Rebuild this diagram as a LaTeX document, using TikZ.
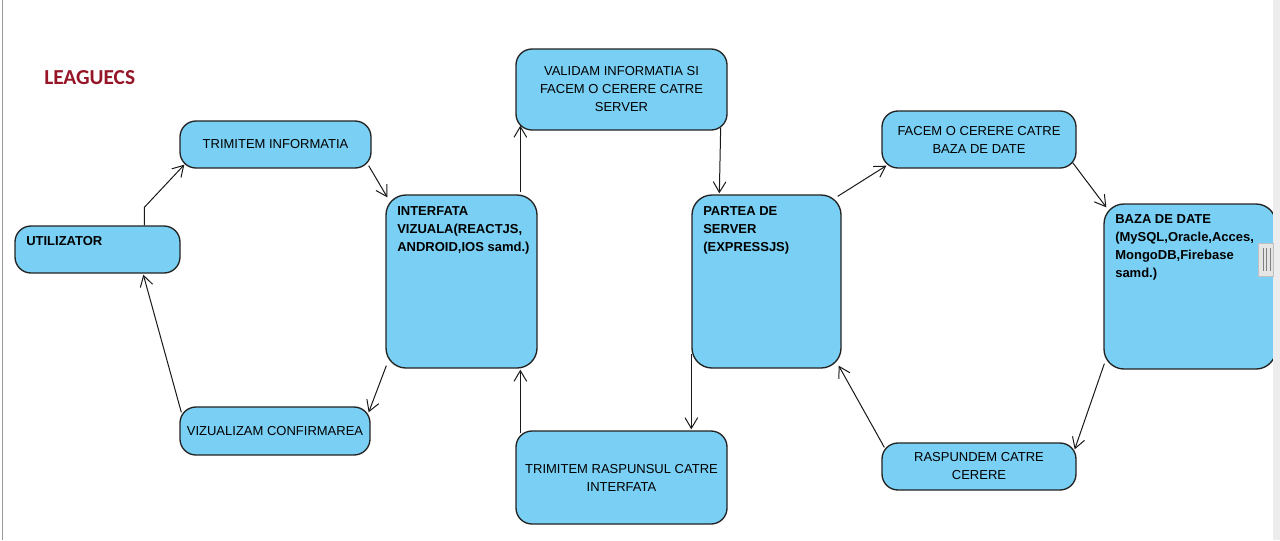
\documentclass[tikz,border=0pt]{standalone}
\usepackage{fontspec}
\setmainfont{Liberation Sans}
\newfontfamily\titlefont{Carlito}
\usetikzlibrary{arrows.meta,calc}
\definecolor{boxblue}{RGB}{122,207,244}
\definecolor{titlered}{RGB}{150,22,40}
\definecolor{edgegray}{RGB}{35,35,35}
\tikzset{
  box/.style={draw=edgegray, fill=boxblue, rounded corners=12pt, line width=1pt,
    inner sep=0pt, align=center, font=\fontsize{9.75}{13.5}\selectfont},
  boxtext/.style={anchor=base west, inner sep=0pt, align=left,
    font=\fontsize{9.75}{13.5}\selectfont\bfseries},
  arr/.style={draw=black!90, line width=0.75pt, -{Straight Barb[length=8pt,width=9.5pt,line width=0.75pt]}},
}
\begin{document}
\begin{tikzpicture}[x=0.75pt,y=-0.75pt]
\useasboundingbox (0,0) rectangle (1280,540);
\fill[white] (0,0) rectangle (1280,540);
% frame line on the left
\draw[draw=black!40, line width=0.8pt] (2.5,0) -- (2.5,540);

% title
\node[anchor=base west, inner sep=0pt, text=titlered, font=\titlefont\fontsize{16}{19}\selectfont\bfseries] (title) at (44,84) {LEAGUECS};

% boxes
\node[box, minimum width=123.75pt, minimum height=35.25pt] (util) at (97.5,249.5) {};
\node[boxtext] (utilt) at (26,245.5) {UTILIZATOR};

\node[box, minimum width=143.25pt, minimum height=35.25pt] (trimInfo) at (275.5,144.5) {TRIMITEM INFORMATIA};

\node[box, minimum width=113.25pt, minimum height=129.75pt, rounded corners=15pt] (interf) at (461.5,281.5) {};
\node[boxtext] (interft) at (397,251.5) {INTERFATA\\VIZUALA(REACTJS,\\ANDROID,IOS samd.)};

\node[box, minimum width=142.5pt, minimum height=36pt] (vizual) at (275,431) {VIZUALIZAM CONFIRMAREA};

\node[box, minimum width=158.25pt, minimum height=60.75pt] (valid) at (621.5,89.5) {VALIDAM INFORMATIA SI\\FACEM O CERERE CATRE\\SERVER};

\node[box, minimum width=158.25pt, minimum height=69.75pt] (trimRasp) at (621.5,477.5) {TRIMITEM RASPUNSUL CATRE\\INTERFATA};

\node[box, minimum width=111.75pt, minimum height=129.75pt, rounded corners=15pt] (partea) at (766.5,281.5) {};
\node[boxtext] (parteat) at (703,251.5) {PARTEA DE\\SERVER\\(EXPRESSJS)};

\node[box, minimum width=145.5pt, minimum height=42.75pt] (facem) at (979,139.5) {FACEM O CERERE CATRE\\BAZA DE DATE};

\node[box, minimum width=129pt, minimum height=123.75pt, rounded corners=15pt] (baza) at (1190,286.5) {};
\node[boxtext] (bazat) at (1115,277.5) {BAZA DE DATE\\(MySQL,Oracle,Acces,\\MongoDB,Firebase\\samd.)};

\node[box, minimum width=145.5pt, minimum height=35.25pt] (rasp) at (979,466.5) {RASPUNDEM CATRE\\CERERE};

% connectors
\draw[arr] ($(util.north west)+(130,0)$) -- ($(util.north west)+(130,-18)$) -- ($(trimInfo.south west)+(5,-4)$);
\draw[arr] ($(trimInfo.south east)+(-3,-3)$) -- ($(interf.north west)+(2,3)$);
\draw[arr] ($(interf.south west)+(1,-3)$) -- ($(vizual.north east)+(-2,6)$);
\draw[arr] ($(vizual.north west)+(2,6)$) -- ($(util.south west)+(129,1)$);
\draw[arr] ($(interf.north west)+(135,-2)$) -- ($(valid.south west)+(5,-5)$);
\draw[arr] ($(valid.south east)+(-7,-3)$) -- ($(partea.north west)+(28,-1)$);
\draw[arr] ($(partea.south west)+(0,-15)$) -- ($(partea.south west |- trimRasp.north)+(0,-1)$);
\draw[arr] ($(trimRasp.north west)+(5,3)$) -- ($(interf.south west)+(135,1)$);
\draw[arr] ($(partea.north east)+(-4,2)$) -- ($(facem.south west)+(5,-3)$);
\draw[arr] ($(facem.south east)+(-4,-6)$) -- ($(baza.north west)+(3,4)$);
\draw[arr] ($(baza.south west)+(1,-6)$) -- ($(rasp.north east)+(-2,7)$);
\draw[arr] ($(rasp.north west)+(3,5)$) -- ($(partea.south east)+(-3,-3)$);

% right scroll strip and handle
\fill[black!7] (1273,0) rectangle (1280,540);
\draw[fill=black!10, draw=black!25, line width=0.6pt] (1258,243) rectangle (1273,276);
\foreach \xx in {1263,1266.5,1270}{
  \draw[black!50, line width=0.6pt] (\xx,248) -- (\xx,271);
}
\end{tikzpicture}
\end{document}
